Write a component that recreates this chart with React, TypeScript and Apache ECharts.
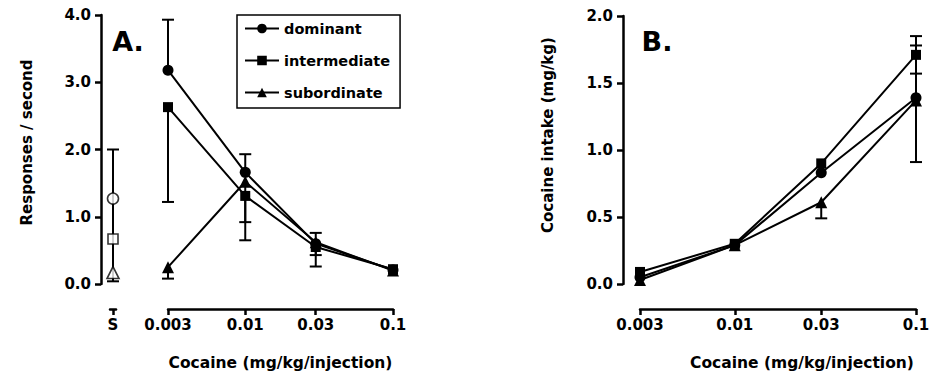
import React, { useEffect, useRef } from 'react';
import * as echarts from 'echarts';

// ---------- data ----------
const doses = [0.003, 0.01, 0.03, 0.1];
const doseLabels = ['0.003', '0.01', '0.03', '0.1'];
const groups = ['dominant', 'intermediate', 'subordinate'];
const groupSymbols = ['circle', 'rect', 'triangle'];
const groupSymbolSizes = [11, 10, 12];

// Panel A: responses / second
const dominantA = [3.18, 1.66, 0.6, 0.21];
const intermediateA = [2.63, 1.31, 0.55, 0.22];
const subordinateA = [0.25, 1.52, 0.62, 0.2];
const dominantHiA = [3.93, 1.93, 0.76, null];
const intermediateLoA = [1.22, 0.65, 0.26, null];
const subordinateLoA = [0.08, 0.92, 0.43, null];
const salineCategory = ['S'];
const salineA = [1.27, 0.67, 0.17];
const salineRangeA = [0.04, 2.0];

// Panel B: cocaine intake (mg/kg)
const dominantB = [0.05, 0.29, 0.83, 1.39];
const intermediateB = [0.09, 0.3, 0.9, 1.71];
const subordinateB = [0.03, 0.29, 0.61, 1.37];
const dominantHiB = [null, null, null, 1.57];
const intermediateHiB = [null, null, null, 1.85];
const subordinateHiB = [null, null, null, 1.78];
const subordinateLoB = [null, null, 0.49, 0.91];

const FONT = 'DejaVu Sans';

function errData(means: number[], ends: (number | null)[]) {
  const out: number[][] = [];
  ends.forEach((e, i) => {
    if (e !== null) out.push([doses[i], means[i], e]);
  });
  return out;
}

const CAP = 6;

function errRender(params: any, api: any) {
  const x = api.value(0);
  const y = api.value(1);
  const e = api.value(2);
  const p0 = api.coord([x, y]);
  const p1 = api.coord([x, e]);
  const st = { stroke: '#000', lineWidth: 2 };
  return {
    type: 'group',
    children: [
      { type: 'line', shape: { x1: p0[0], y1: p0[1], x2: p1[0], y2: p1[1] }, style: st },
      { type: 'line', shape: { x1: p1[0] - CAP, y1: p1[1], x2: p1[0] + CAP, y2: p1[1] }, style: st },
    ],
  };
}

function rangeRender(params: any, api: any) {
  const x = api.value(0);
  const lo = api.value(1);
  const hi = api.value(2);
  const p0 = api.coord([x, lo]);
  const p1 = api.coord([x, hi]);
  const st = { stroke: '#000', lineWidth: 2 };
  return {
    type: 'group',
    children: [
      { type: 'line', shape: { x1: p0[0], y1: p0[1], x2: p1[0], y2: p1[1] }, style: st },
      { type: 'line', shape: { x1: p0[0] - CAP, y1: p0[1], x2: p0[0] + CAP, y2: p0[1] }, style: st },
      { type: 'line', shape: { x1: p1[0] - CAP, y1: p1[1], x2: p1[0] + CAP, y2: p1[1] }, style: st },
    ],
  };
}

const tickFont = { fontFamily: FONT, fontWeight: 'bold' as const, fontSize: 15, color: '#000' };

function logXAxis(gridIndex: number, shift: number) {
  return {
    type: 'log',
    logBase: 10,
    gridIndex,
    min: doses[0],
    max: doses[doses.length - 1],
    position: 'bottom',
    offset: 25,
    axisLine: { show: true, onZero: false, lineStyle: { color: '#000', width: 2.5 } },
    axisTick: { show: true, length: 6, lineStyle: { color: '#000', width: 2.5 }, customValues: doses },
    minorTick: { show: false },
    splitLine: { show: false },
    axisLabel: {
      ...tickFont,
      margin: 8,
      customValues: doses,
      formatter: (v: number) => {
        let best = 0;
        doses.forEach((d, i) => {
          if (Math.abs(Math.log10(d) - Math.log10(v)) < Math.abs(Math.log10(doses[best]) - Math.log10(v))) best = i;
        });
        return doseLabels[best];
      },
    },
    name: 'Cocaine (mg/kg/injection)',
    nameLocation: 'middle',
    nameGap: 46,
    nameTextStyle: { fontFamily: FONT, fontWeight: 'bold', fontSize: 15.5, color: '#000', padding: [0, 0, 0, shift] },
  };
}

function valueYAxis(gridIndex: number, max: number, interval: number, offset: number, name: string, nameGap: number, shift: number) {
  return {
    type: 'value',
    gridIndex,
    min: 0,
    max,
    interval,
    offset,
    axisLine: { show: true, onZero: false, lineStyle: { color: '#000', width: 2.5 } },
    axisTick: { show: true, length: 6, lineStyle: { color: '#000', width: 2.5 } },
    splitLine: { show: false },
    axisLabel: { ...tickFont, margin: 10, formatter: (v: number) => v.toFixed(1) },
    name,
    nameLocation: 'middle',
    nameGap,
    nameTextStyle: { fontFamily: FONT, fontWeight: 'bold', fontSize: 15, color: '#000', padding: [0, 0, 0, shift] },
  };
}

function lineSeries(name: string, idx: number, values: number[], xAxisIndex: number, yAxisIndex: number) {
  return {
    type: 'line',
    name,
    xAxisIndex,
    yAxisIndex,
    data: values.map((v, i) => [doses[i], v]),
    symbol: groupSymbols[idx],
    symbolSize: groupSymbolSizes[idx],
    itemStyle: { color: '#000' },
    lineStyle: { color: '#000', width: 2 },
    clip: false,
    z: 3,
  };
}

function errSeries(means: number[], ends: (number | null)[], xAxisIndex: number, yAxisIndex: number) {
  return {
    type: 'custom',
    xAxisIndex,
    yAxisIndex,
    renderItem: errRender,
    data: errData(means, ends),
    encode: { x: 0, y: [1, 2] },
    clip: false,
    z: 2,
    silent: true,
  };
}

function App() {
  const ref = useRef<HTMLDivElement>(null);
  useEffect(() => {
    if (!ref.current) return;
    const chart = echarts.init(ref.current, undefined, { renderer: 'svg' });
    const option: any = {
      animation: false,
      backgroundColor: '#fff',
      grid: [
        { left: 110, top: 15, width: 6, height: 269 },
        { left: 168, top: 15, width: 225, height: 269 },
        { left: 640, top: 16, width: 276, height: 268 },
      ],
      xAxis: [
        {
          type: 'category',
          gridIndex: 0,
          data: salineCategory,
          position: 'bottom',
          offset: 25,
          boundaryGap: true,
          axisLine: { show: true, onZero: false, lineStyle: { color: '#000', width: 2.5 } },
          axisTick: { show: true, alignWithLabel: true, length: 6, lineStyle: { color: '#000', width: 2.5 } },
          axisLabel: { ...tickFont, margin: 8 },
          splitLine: { show: false },
        },
        logXAxis(1, 0),
        logXAxis(2, 48),
      ],
      yAxis: [
        { type: 'value', gridIndex: 0, min: 0, max: 4, show: false },
        valueYAxis(1, 4, 1, 67, 'Responses / second', 67, 14),
        valueYAxis(2, 2, 0.5, 17, 'Cocaine intake (mg/kg)', 68, 30),
      ],
      legend: {
        data: groups,
        orient: 'vertical',
        left: 237,
        top: 15,
        padding: [6, 10, 8, 7],
        itemWidth: 34,
        itemHeight: 12,
        itemGap: 17,
        borderColor: '#000',
        borderWidth: 1.5,
        textStyle: { fontFamily: FONT, fontWeight: 'bold', fontSize: 14.5, color: '#000' },
      },
      graphic: [
        { type: 'text', x: 128, y: 41, style: { text: 'A.', font: `bold 27px "${FONT}"`, fill: '#000', textAlign: 'center', textVerticalAlign: 'middle' } },
        { type: 'text', x: 657, y: 41, style: { text: 'B.', font: `bold 27px "${FONT}"`, fill: '#000', textAlign: 'center', textVerticalAlign: 'middle' } },
      ],
      series: [
        // saline (S) points, open symbols
        {
          type: 'custom',
          name: 'saline range',
          xAxisIndex: 0,
          yAxisIndex: 0,
          renderItem: rangeRender,
          data: [[0, salineRangeA[0], salineRangeA[1]]],
          encode: { x: 0, y: [1, 2] },
          clip: false,
          z: 2,
          silent: true,
        },
        ...salineA.map((v, i) => ({
          type: 'scatter',
          name: groups[i] + ' saline',
          xAxisIndex: 0,
          yAxisIndex: 0,
          data: [[0, v]],
          symbol: groupSymbols[i],
          symbolSize: groupSymbolSizes[i],
          itemStyle: { color: '#fff', borderColor: '#000', borderWidth: 1.6 },
          clip: false,
          z: 3,
        })),
        // panel A
        errSeries(dominantA, dominantHiA, 1, 1),
        errSeries(intermediateA, intermediateLoA, 1, 1),
        errSeries(subordinateA, subordinateLoA, 1, 1),
        lineSeries(groups[0], 0, dominantA, 1, 1),
        lineSeries(groups[1], 1, intermediateA, 1, 1),
        lineSeries(groups[2], 2, subordinateA, 1, 1),
        // panel B
        errSeries(dominantB, dominantHiB, 2, 2),
        errSeries(intermediateB, intermediateHiB, 2, 2),
        errSeries(subordinateB, subordinateHiB, 2, 2),
        errSeries(subordinateB, subordinateLoB, 2, 2),
        lineSeries(groups[0], 0, dominantB, 2, 2),
        lineSeries(groups[1], 1, intermediateB, 2, 2),
        lineSeries(groups[2], 2, subordinateB, 2, 2),
      ],
    };
    chart.setOption(option);
    return () => chart.dispose();
  }, []);
  return (
    <div
      ref={ref}
      style={{ position: 'fixed', left: 0, top: 0, width: 939, height: 382, background: '#fff' }}
    />
  );
}

export default App;
